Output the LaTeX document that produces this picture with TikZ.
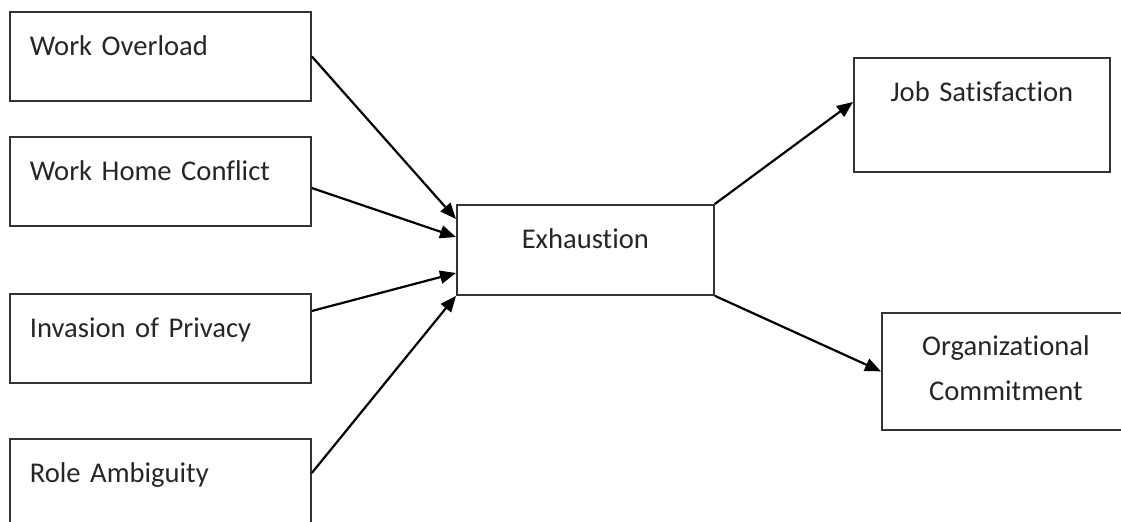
\documentclass[tikz,border=0pt]{standalone}
\usepackage{fontspec}
\setmainfont{Carlito}[Ligatures=NoCommon,WordSpace=0.8]
\usetikzlibrary{arrows.meta,calc}
\begin{document}
\begin{tikzpicture}[x=0.5pt,y=-0.5pt,
  box/.style={draw=black!80, line width=0.9pt, inner sep=0pt, anchor=north west,
    font=\fontsize{14.3pt}{22.5pt}\selectfont, text=black!85},
  leftbox/.style={box, text width=130.5pt, inner xsep=10pt, align=left,
    text height=22pt, text depth=22.5pt},
  link/.style={line width=1.1pt, draw=black, -{Triangle[length=8pt,width=6.5pt]}}]
\useasboundingbox (0,0) rectangle (1121,521);
\clip (0,0) rectangle (1121,521);
% left column
\node[leftbox] (wo)  at (9,11)  {Work Overload};
\node[leftbox] (whc) at (9,136) {Work Home Conflict};
\node[leftbox] (inv) at (9,293) {Invasion of Privacy};
\node[leftbox] (ra)  at (9,438) {Role Ambiguity};
% centre
\node[box, text width=128.5pt, align=center, text height=22pt, text depth=23pt]
  (exh) at (456,204) {Exhaustion};
% right column
\node[box, text width=128pt, align=center, text height=22pt, text depth=35pt]
  (js) at (853,57) {Job Satisfaction};
\node[box, text height=44pt, text depth=14.5pt]
  (oc) at (881,312) {\parbox[b]{124pt}{\centering Organizational\\Commitment}};
% connectors
\draw[link] (wo.east) -- ($(exh.north west)+(0,15)$);
\draw[link] ($(whc.north east)+(0,52)$) -- ($(exh.north west)+(0,33)$);
\draw[link] ($(inv.north east)+(0,18)$) -- ($(exh.north west)+(0,69)$);
\draw[link] ($(ra.north east)+(0,35)$) -- (exh.south west);
\draw[link] (exh.north east) -- ($(js.north west)+(0,45)$);
\draw[link] (exh.south east) -- (oc.west);
\end{tikzpicture}
\end{document}
